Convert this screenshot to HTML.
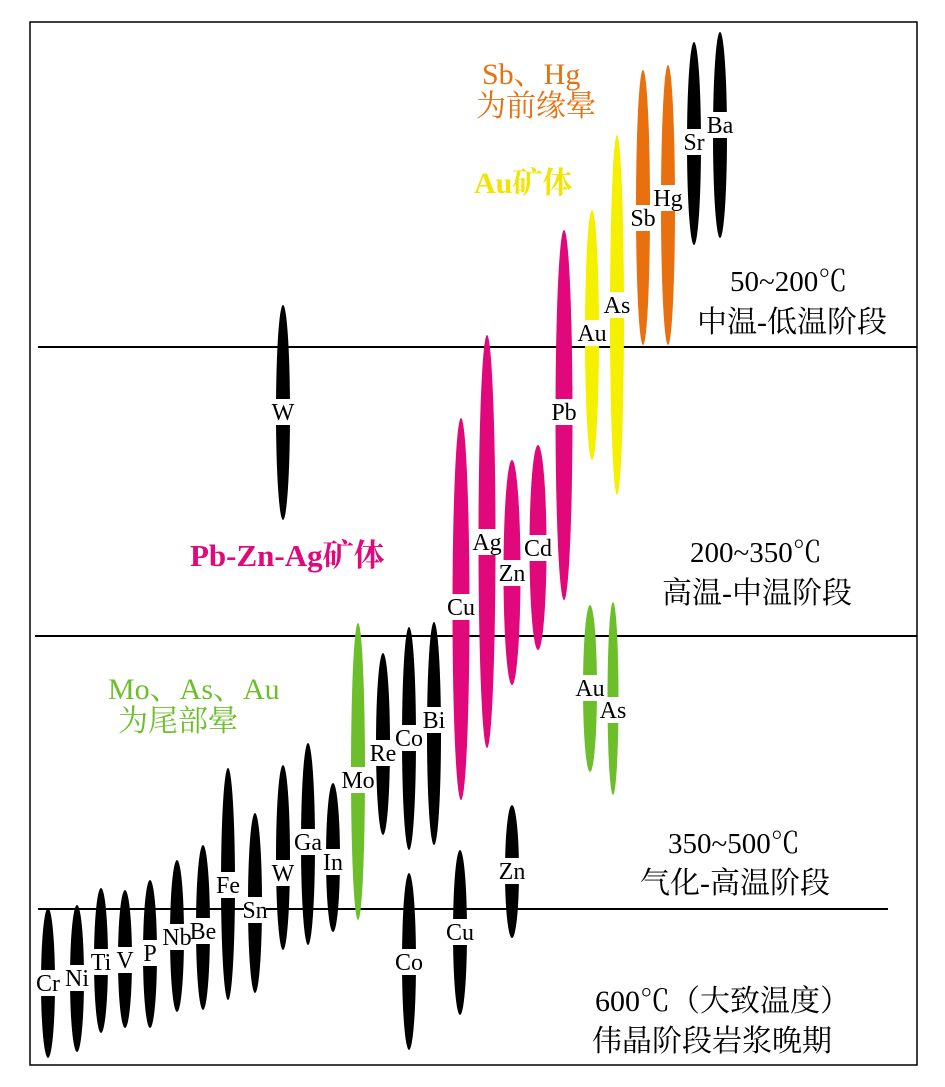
<!DOCTYPE html><html><head><meta charset="utf-8"><style>body{margin:0;background:#fff}svg{display:block}text{font-family:"Liberation Serif","Noto Serif CJK SC",serif}</style></head><body>
<svg id="s" width="945" height="1087" xmlns="http://www.w3.org/2000/svg">
<rect x="30" y="22" width="887" height="1043" fill="none" stroke="#000" stroke-width="1.5"/>
<line x1="38" y1="347" x2="917" y2="347" stroke="#000" stroke-width="2"/>
<line x1="35" y1="636" x2="917" y2="636" stroke="#000" stroke-width="2"/>
<line x1="38" y1="909" x2="888" y2="909" stroke="#000" stroke-width="2"/>
<g id="g"></g>
<g font-size="30">
<text x="482" y="84" fill="#e8700f">Sb、Hg</text>
<text x="476" y="116" fill="#e8700f">为前缘晕</text>
<text x="474" y="193" fill="#f0e400" font-weight="bold">Au矿体</text>
<text x="730" y="291" font-size="29">50~200℃</text>
<text x="697" y="332">中温-低温阶段</text>
<text x="190" y="566" fill="#e0087a" font-weight="bold" font-size="31">Pb-Zn-Ag矿体</text>
<text x="690" y="562" font-size="29">200~350℃</text>
<text x="662" y="603">高温-中温阶段</text>
<text x="108" y="699" fill="#6cbf2a">Mo、As、Au</text>
<text x="118" y="731" fill="#6cbf2a">为尾部晕</text>
<text x="668" y="853" font-size="29">350~500℃</text>
<text x="640" y="893">气化-高温阶段</text>
<text x="595" y="1011">600℃（大致温度）</text>
<text x="592" y="1051">伟晶阶段岩浆晚期</text>
</g>
</svg>
<script>
var K="#000",P="#e0087a",Y="#f5f000",O="#e8700f",G="#6cbf2a";
var d=[["Cr",48,908,1058,983,K],["Ni",77,905,1052,978,K],["Ti",101,888,1033,962,K],["V",125,890,1028,960,K],["P",150,880,1028,953,K],["Nb",177,860,1012,937,K],["Be",203,845,1010,931,K],["Fe",228,768,1000,885,K],["Sn",255,813,993,910,K],["W",283,765,950,873,K],["Ga",308,743,945,842,K],["In",333,783,932,862,K],["Mo",358,623,920,780,G],["Re",383,653,835,753,K],["Co",409,627,850,738,K],["Bi",434,622,845,720,K],["Co",409,873,1050,962,K],["Cu",460,850,1015,932,K],["Zn",512,805,938,871,K],["W",283,305,520,412,K],["Cu",461,418,800,607,P],["Ag",487,335,748,542,P],["Zn",512,460,685,573,P],["Cd",538,445,650,548,P],["Pb",564,230,600,412,P],["Au",592,210,460,333,Y],["As",617,135,495,305,Y],["Au",590,605,772,688,G],["As",613,602,795,710,G],["Sb",643,70,345,218,O],["Hg",668,65,345,198,O],["Sr",694,42,245,142,K],["Ba",720,32,238,125,K]];
var h="";d.forEach(function(e){var w=(e[5]==G&&e[1]==613)?5.5:(e[5]==P?8.5:7);h+='<ellipse cx="'+e[1]+'" cy="'+(e[2]+e[3])/2+'" rx="'+w+'" ry="'+(e[3]-e[2])/2+'" fill="'+e[5]+'"/>';});
d.forEach(function(e){h+='<rect x="'+(e[1]-11)+'" y="'+(e[4]-13)+'" width="22" height="26" fill="#fff"/><text x="'+e[1]+'" y="'+(e[4]+8)+'" font-size="24" text-anchor="middle">'+e[0]+'</text>';});
document.getElementById("g").innerHTML=h;
</script>
</body></html>
